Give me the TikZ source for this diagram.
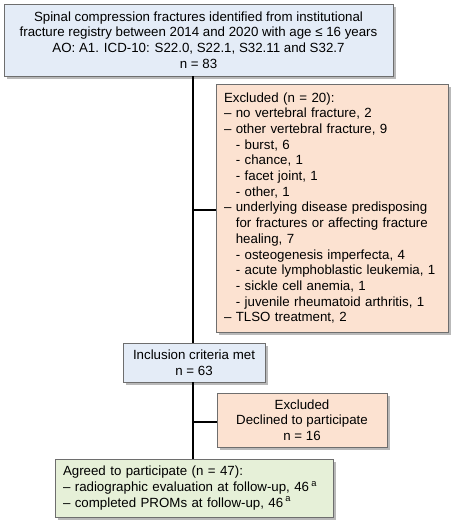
\documentclass[tikz,border=0pt]{standalone}
\usepackage{fontspec}
\setmainfont{Liberation Sans}
\usetikzlibrary{shadows}

\definecolor{boxblue}{HTML}{E4ECF7}
\definecolor{boxpeach}{HTML}{FCE2D1}
\definecolor{boxgreen}{HTML}{E6F0D8}
\definecolor{boxline}{HTML}{6E6E6E}

\tikzset{
  box/.style={draw=boxline, line width=0.8pt, rectangle, inner xsep=8pt, inner ysep=3pt,
    font=\fontsize{13.3}{15.7}\selectfont,
    drop shadow={shadow xshift=2.5pt, shadow yshift=-2.5pt, fill=black!50, opacity=0.55}},
  flow/.style={line width=1.8pt, black}
}

\begin{document}
\begin{tikzpicture}[x=1pt, y=-1pt]
\useasboundingbox (0,0) rectangle (459,530);

% boxes on the main line
\node[box, fill=boxblue, minimum width=389pt, minimum height=72pt, align=center] (registry) at (198.5,40)
  {Spinal compression fractures identified from institutional\\
   fracture registry between 2014 and 2020 with age ≤ 16 years\\
   AO: A1. ICD-10: S22.0, S22.1, S32.11 and S32.7\\
   n = 83};
\node[box, fill=boxblue, minimum width=142pt, minimum height=39pt, align=center] (inclusion) at (194,362.5)
  {Inclusion criteria met\\ n = 63};
\node[box, fill=boxgreen, minimum width=278pt, minimum height=58pt, text width=262pt, align=left] (agreed) at (194,488)
  {Agreed to participate (n = 47):\\
   – radiographic evaluation at follow-up, 46\,\textsuperscript{a}\\
   – completed PROMs at follow-up, 46\,\textsuperscript{a}};

% exclusions
\node[box, fill=boxpeach, minimum width=232pt, minimum height=248pt, text width=216pt, align=left] (excluded) at (332,208)
  {Excluded (n = 20):\\
   – no vertebral fracture, 2\\
   – other vertebral fracture, 9\\
   \phantom{– }- burst, 6\\
   \phantom{– }- chance, 1\\
   \phantom{– }- facet joint, 1\\
   \phantom{– }- other, 1\\
   – underlying disease predisposing\\
   \phantom{– }for fractures or affecting fracture\\
   \phantom{– }healing, 7\\
   \phantom{– }- osteogenesis imperfecta, 4\\
   \phantom{– }- acute lymphoblastic leukemia, 1\\
   \phantom{– }- sickle cell anemia, 1\\
   \phantom{– }- juvenile rheumatoid arthritis, 1\\
   – TLSO treatment, 2};
\node[box, fill=boxpeach, minimum width=170pt, minimum height=54pt, align=center] (declined) at (302,420)
  {Excluded\\ Declined to participate\\ n = 16};

\coordinate (split1) at (193,210);
\coordinate (split2) at (193,422);

\begin{scope}[on background layer/.try]
    \path [flow] (registry.south -| split1) edge (split1);
    \path [flow] (split1) edge (inclusion.north -| split1);
    \path [flow] (inclusion.south -| split2) edge (split2);
    \path [flow] (split2) edge (agreed.north -| split2);
    \path [flow] (split1) edge (excluded.west |- split1);
    \path [flow] (split2) edge (declined.west |- split2);
\end{scope}
\end{tikzpicture}
\end{document}
